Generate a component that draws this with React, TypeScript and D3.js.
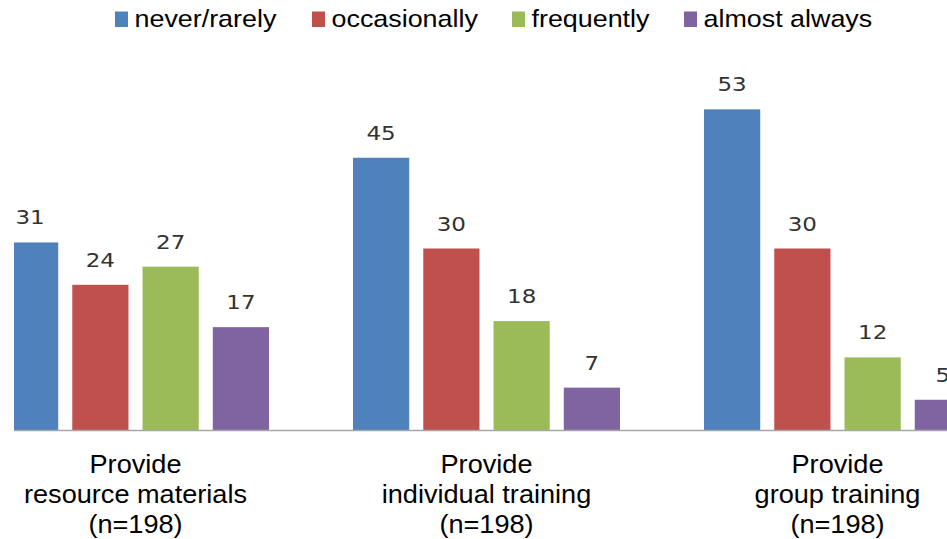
import React from "react";
import * as d3 from "d3";

// Survey categories (three-line labels) and the four response series
const categories = ["resource", "individual", "group"];
const categoryLines = [
  ["Provide", "resource materials", "(n=198)"],
  ["Provide", "individual training", "(n=198)"],
  ["Provide", "group training", "(n=198)"],
];
const seriesNames = ["never/rarely", "occasionally", "frequently", "almost always"];
const seriesColors = ["#4f81bd", "#c0504d", "#9bbb59", "#8064a2"];

const neverRarely = [31, 45, 53];
const occasionally = [24, 30, 30];
const frequently = [27, 18, 12];
const almostAlways = [17, 7, 5];
const seriesValues = [neverRarely, occasionally, frequently, almostAlways];

const W = 947;
const H = 539;
const baseline = 430;
const plotLeft = 14;

export default function App() {
  const x0 = d3.scaleBand<string>().domain(categories).range([-40, 1013]);
  const x1 = d3
    .scaleBand<string>()
    .domain(seriesNames)
    .range([-133.5, 133.5])
    .paddingInner(0.2);
  const y = d3.scaleLinear().domain([0, 60]).range([baseline, baseline - 363]);

  const legendX = [115, 312, 512, 684];
  const sansFont = "'Liberation Sans', Arial, sans-serif";

  return (
    <svg
      width={W}
      height={H}
      style={{ position: "absolute", left: 0, top: 0, background: "#fff" }}
      fontFamily={sansFont}
    >
      <defs>
        <clipPath id="plotClip">
          <rect x={plotLeft} y={0} width={W - plotLeft} height={baseline} />
        </clipPath>
      </defs>

      {/* legend */}
      {seriesNames.map((name, i) => (
        <g key={name}>
          <rect x={legendX[i]} y={11.5} width={13} height={15.5} fill={seriesColors[i]} />
          <text
            transform={`translate(${legendX[i] + 19.5},27) scale(1.12,1)`}
            fontSize={24}
            fill="#000"
          >
            {name}
          </text>
        </g>
      ))}

      {/* bars */}
      <g clipPath="url(#plotClip)">
        {categories.map((c, ci) => {
          const cx = (x0(c) ?? 0) + x0.bandwidth() / 2;
          return seriesNames.map((s, si) => {
            const v = seriesValues[si][ci];
            return (
              <rect
                key={c + s}
                x={cx + (x1(s) ?? 0)}
                y={y(v)}
                width={x1.bandwidth()}
                height={baseline - y(v)}
                fill={seriesColors[si]}
              />
            );
          });
        })}
      </g>

      {/* value labels */}
      {categories.map((c, ci) => {
        const cx = (x0(c) ?? 0) + x0.bandwidth() / 2;
        return seriesNames.map((s, si) => {
          const v = seriesValues[si][ci];
          const lx = cx + (x1(s) ?? 0) + x1.bandwidth() / 2;
          return (
            <text
              key={"l" + c + s}
              transform={`translate(${lx},${y(v) - 18}) scale(1.15,1)`}
              textAnchor="middle"
              fontFamily="'DejaVu Sans', sans-serif"
              fontSize={20}
              fill="#333"
            >
              {v}
            </text>
          );
        });
      })}

      {/* category axis line */}
      <line x1={plotLeft} x2={W} y1={baseline + 0.5} y2={baseline + 0.5} stroke="#a6a6a6" strokeWidth={1.5} />

      {/* category labels */}
      {categories.map((c, ci) => {
        const cx = (x0(c) ?? 0) + x0.bandwidth() / 2;
        return categoryLines[ci].map((line, li) => (
          <text
            key={c + li}
            transform={`translate(${cx},${473 + li * 30}) scale(1.085,1)`}
            textAnchor="middle"
            fontSize={25}
            fill="#000"
          >
            {line}
          </text>
        ));
      })}
    </svg>
  );
}
